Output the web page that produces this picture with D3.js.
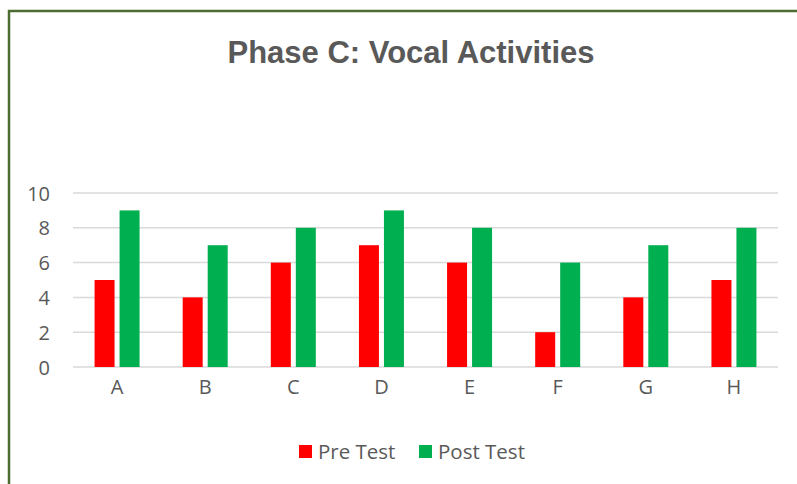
<!DOCTYPE html>
<html>
<head>
<meta charset="utf-8">
<script src="https://cdn.jsdelivr.net/npm/d3@7"></script>
<style>
  body { margin: 0; background: #fff; }
  text { font-family: "Open Sans", "Liberation Sans", sans-serif; fill: #595959; }
</style>
</head>
<body>
<div id="chart"></div>
<script>
var categories = ["A", "B", "C", "D", "E", "F", "G", "H"];
var preTest = [5, 4, 6, 7, 6, 2, 4, 5];
var postTest = [9, 7, 8, 9, 8, 6, 7, 8];
var yTicks = [0, 2, 4, 6, 8, 10];
var seriesNames = ["Pre Test", "Post Test"];
var seriesColors = ["#ff0000", "#00b050"];

var width = 797, height = 484;
var margin = { left: 73, right: 19, top: 193, bottom: 117 };

var svg = d3.select("#chart").append("svg")
  .attr("width", width)
  .attr("height", height);

// chart frame (only left + top visible in crop)
svg.append("path")
  .attr("d", "M9,484 V11 H797")
  .attr("fill", "none")
  .attr("stroke", "#4e6b32")
  .attr("stroke-width", 2.5);

svg.append("text")
  .attr("x", 411)
  .attr("y", 63)
  .attr("text-anchor", "middle")
  .style("font-family", "'Liberation Sans', Arial, sans-serif")
  .style("font-weight", "bold")
  .style("font-size", "31px")
  .text("Phase C: Vocal Activities");

var x = d3.scaleBand()
  .domain(categories)
  .range([margin.left, width - margin.right]);

var y = d3.scaleLinear()
  .domain([0, 10])
  .range([height - margin.bottom, margin.top]);

// gridlines
svg.append("g").selectAll("line")
  .data(yTicks)
  .enter().append("line")
    .attr("x1", margin.left)
    .attr("x2", width - margin.right)
    .attr("y1", function(d){ return y(d); })
    .attr("y2", function(d){ return y(d); })
    .attr("stroke", "#d9d9d9")
    .attr("stroke-width", 1.5);

var yAxis = svg.append("g")
  .attr("transform", "translate(" + margin.left + ",0)")
  .call(d3.axisLeft(y).tickValues(yTicks).tickSize(0).tickPadding(23));
yAxis.select(".domain").remove();
yAxis.selectAll("text").style("font-size", "20px").attr("dy", "0.35em");

var xAxis = svg.append("g")
  .attr("transform", "translate(0," + (height - margin.bottom) + ")")
  .call(d3.axisBottom(x).tickSize(0).tickPadding(13));
xAxis.select(".domain").remove();
xAxis.selectAll("text").style("font-size", "20px");

var barW = 20, gap = 5;
var series = [preTest, postTest];

series.forEach(function(vals, si){
  svg.append("g").selectAll("rect")
    .data(vals)
    .enter().append("rect")
      .attr("x", function(d, i){
        var c = x(categories[i]) + x.bandwidth() / 2;
        return si === 0 ? c - gap / 2 - barW : c + gap / 2;
      })
      .attr("y", function(d){ return y(d); })
      .attr("width", barW)
      .attr("height", function(d){ return y(0) - y(d); })
      .attr("fill", seriesColors[si]);
});

// legend
var legendItems = [{ x: 299, name: seriesNames[0], color: seriesColors[0] },
                   { x: 419, name: seriesNames[1], color: seriesColors[1] }];
var legend = svg.append("g").selectAll("g")
  .data(legendItems)
  .enter().append("g")
    .attr("transform", function(d){ return "translate(" + d.x + ",445)"; });
legend.append("rect")
  .attr("width", 13)
  .attr("height", 13)
  .attr("fill", function(d){ return d.color; });
legend.append("text")
  .attr("x", 19)
  .attr("y", 14)
  .style("font-size", "20.5px")
  .text(function(d){ return d.name; });
</script>
</body>
</html>
